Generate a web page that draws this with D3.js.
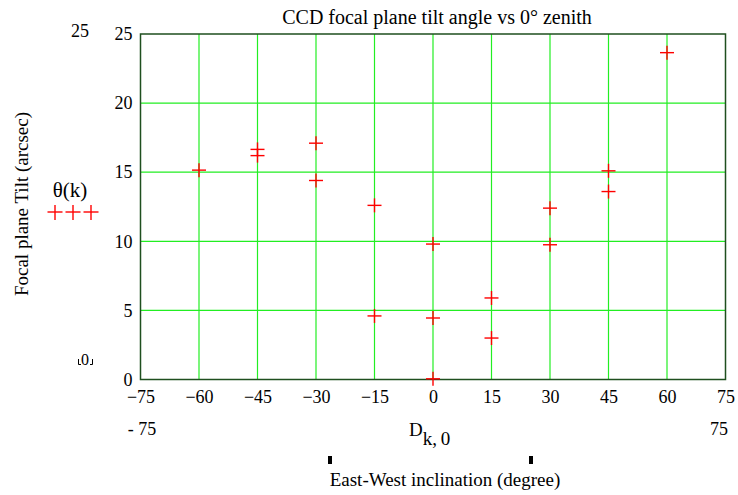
<!DOCTYPE html>
<html><head><meta charset="utf-8">
<script src="https://cdn.jsdelivr.net/npm/d3@7"></script>
<style>body{margin:0;background:#fff}svg{display:block}text{font-family:"Liberation Serif","Times New Roman",serif;fill:#000}</style>
</head><body>
<svg id="c" width="738" height="495"></svg>
<script>
const xVals = [-60, -45, -45, -30, -30, -15, -15, 0, 0, 0, 15, 15, 30, 30, 45, 45, 60];
const yVals = [15.15, 16.65, 16.2, 17.1, 14.4, 12.6, 4.6, 9.8, 4.45, 0.05, 5.9, 3.0, 12.4, 9.75, 15.1, 13.6, 23.65];
const xTicks = [-75, -60, -45, -30, -15, 0, 15, 30, 45, 60, 75];
const yTicks = [0, 5, 10, 15, 20, 25];
const xDomain = [-75, 75];
const yDomain = [0, 25];
const title = "CCD focal plane tilt angle vs 0\u00b0 zenith";
const yLabel = "Focal plane Tilt (arcsec)";
const xLabel = "East-West inclination (degree)";

const svg = d3.select("#c");
const L = 140.5, R = 725.5, T = 34, B = 379.5;
const x = d3.scaleLinear().domain(xDomain).range([L, R]);
const y = d3.scaleLinear().domain(yDomain).range([B, T]);
const FF = "Liberation Serif";

// grid
const g = svg.append("g");
g.selectAll(".vg").data(xTicks.slice(1, -1)).enter().append("line")
  .attr("x1", d => x(d)).attr("x2", d => x(d)).attr("y1", T).attr("y2", B)
  .attr("stroke", "#22ee22").attr("stroke-width", 1.2);
g.selectAll(".hg").data(yTicks.slice(1, -1)).enter().append("line")
  .attr("x1", L).attr("x2", R).attr("y1", d => y(d)).attr("y2", d => y(d))
  .attr("stroke", "#22ee22").attr("stroke-width", 1.2);

// frame
svg.append("rect").attr("x", L).attr("y", T).attr("width", R - L).attr("height", B - T)
  .attr("fill", "none").attr("stroke", "#1f4f1f").attr("stroke-width", 1.5);

// axes labels via d3 axes (no lines)
const yAxis = svg.append("g").attr("transform", `translate(${L},0)`)
  .call(d3.axisLeft(y).tickValues(yTicks).tickSize(0).tickPadding(8).tickFormat(d3.format("d")));
yAxis.select(".domain").remove();
yAxis.selectAll("text").style("font-size", "18px").style("font-family", FF);

const xAxis = svg.append("g").attr("transform", `translate(0,${B})`)
  .call(d3.axisBottom(x).tickValues(xTicks).tickSize(0).tickPadding(11)
    .tickFormat(d => d < 0 ? "\u2212" + Math.abs(d) : String(d)));
xAxis.select(".domain").remove();
xAxis.selectAll("text").style("font-size", "18px").style("font-family", FF);

// data markers
const pts = xVals.map((v, i) => [v, yVals[i]]);
const s = 7;
const mk = svg.append("g").attr("stroke", "#ff0000").attr("stroke-width", 1.4);
pts.forEach(p => {
  const cx = x(p[0]), cy = y(p[1]);
  mk.append("line").attr("x1", cx - s).attr("x2", cx + s).attr("y1", cy).attr("y2", cy);
  mk.append("line").attr("x1", cx).attr("x2", cx).attr("y1", cy - s).attr("y2", cy + s);
});

// title
svg.append("text").attr("x", 437).attr("y", 24).attr("text-anchor", "middle")
  .style("font-size", "20px").text(title);

// y label
svg.append("text").attr("transform", "translate(28,204) rotate(-90)").attr("text-anchor", "middle")
  .style("font-size", "19px").text(yLabel);

// Mathcad extras on left
svg.append("text").attr("x", 80).attr("y", 37).attr("text-anchor", "middle").style("font-size", "18px").text(String(yDomain[1]));
svg.append("text").attr("x", 85).attr("y", 365).attr("text-anchor", "middle").style("font-size", "16px").text(String(yDomain[0]));
const br = svg.append("g").attr("stroke", "#000").attr("stroke-width", 1).attr("fill", "none");
br.append("path").attr("d", "M78.5,359 V364.5 H81");
br.append("path").attr("d", "M92.5,359 V364.5 H90");
svg.append("text").attr("x", 70).attr("y", 197).attr("text-anchor", "middle").style("font-size", "21px").text("\u03b8(k)");
const lg = svg.append("g").attr("stroke", "#ff0000").attr("stroke-width", 1.4);
[55, 73, 91].forEach(cx => {
  lg.append("line").attr("x1", cx - 7.5).attr("x2", cx + 7.5).attr("y1", 212).attr("y2", 212);
  lg.append("line").attr("x1", cx).attr("x2", cx).attr("y1", 205).attr("y2", 220);
});

// second x row
svg.append("text").attr("x", 142).attr("y", 435).attr("text-anchor", "middle").style("font-size", "18px").text("- " + Math.abs(xDomain[0]));
svg.append("text").attr("x", 719).attr("y", 435).attr("text-anchor", "middle").style("font-size", "18px").text(String(xDomain[1]));
const dl = svg.append("text").attr("x", 409).attr("y", 436).style("font-size", "19px");
dl.append("tspan").text("D");
dl.append("tspan").attr("dy", 9).style("font-size", "19px").text("k,\u20090");

// small marks
svg.append("rect").attr("x", 328).attr("y", 456).attr("width", 4).attr("height", 8).attr("fill", "#000");
svg.append("rect").attr("x", 529).attr("y", 456).attr("width", 4).attr("height", 8).attr("fill", "#000");

svg.append("text").attr("x", 445).attr("y", 486).attr("text-anchor", "middle").style("font-size", "19px").text(xLabel);
</script>
</body></html>
